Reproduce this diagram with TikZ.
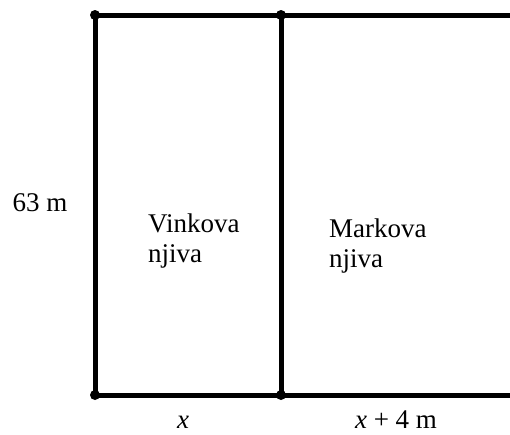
\documentclass[tikz,border=0pt]{standalone}
\usepackage{fontspec}
\setmainfont{Liberation Serif}
\usetikzlibrary{positioning}
\tikzset{
  edge_l/.style = {line width=5pt, line cap=round},% field border
  corner_n/.style = {circle, fill=black, inner sep=0pt, minimum size=10pt},% corner dot
  label_n/.style = {inner sep=0pt, font=\fontsize{27}{30}\selectfont},
  field_n/.style = {label_n, align=left, anchor=base west},% field name
}

\begin{document}
\begin{tikzpicture}[x=1pt,y=-1pt]
\useasboundingbox (0,0) rectangle (510,434);
% corners of the fields
\node [corner_n] (tl) at (95,15) {};
\node [corner_n] (tm) at (281,15) {};
\node [corner_n] (bl) at (95,395) {};
\node [corner_n] (bm) at (281,395) {};
\coordinate (tr) at (512,15);
\coordinate (br) at (512,395);
% borders
\draw [edge_l] (tl.center) -- (tm.center) -- (tr);
\draw [edge_l] (bl.center) -- (bm.center) -- (br);
\draw [edge_l] (tl.center) -- (bl.center);
\draw [edge_l] (tm.center) -- (bm.center);
% labels (base = last line)
\node [field_n] (vinko) at (148,262) {Vinkova\\njiva};
\node [field_n] (marko) at (329,267) {Markova\\njiva};
\node [label_n, anchor=base] (height) at (40,211) {63 m};
\node [label_n, anchor=base] (width1) at (183,428) {\textit{x}};
\node [label_n, anchor=base] (width2) at (396,428) {\textit{x} + 4 m};
\end{tikzpicture}
\end{document}
